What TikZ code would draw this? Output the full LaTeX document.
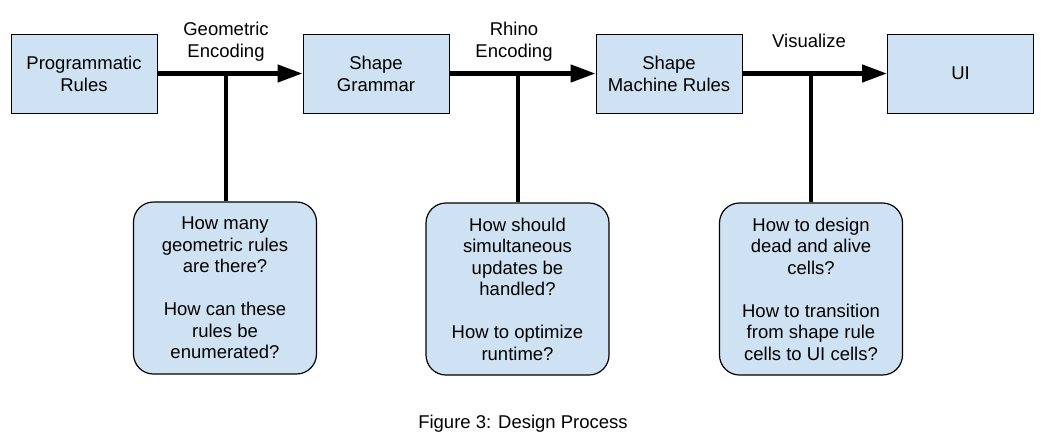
\documentclass[tikz,border=0pt]{standalone}
\usepackage{fontspec}
\setmainfont{Liberation Sans}
\usetikzlibrary{arrows.meta}
\definecolor{boxblue}{RGB}{207,226,243}

\begin{document}
\begin{tikzpicture}[x=1pt, y=-1pt, >={Triangle[length=25pt,width=17pt]},
    stage/.style={draw=black, line width=1pt, fill=boxblue, minimum width=146pt, minimum height=79pt, inner sep=0pt, align=center, font=\fontsize{18.5}{22}\selectfont},
    question/.style={draw=black, line width=1.2pt, fill=boxblue, rounded corners=20pt, minimum width=183pt, minimum height=172pt, inner sep=0pt, align=center, font=\fontsize{18.5}{21.5}\selectfont},
    flowlabel/.style={align=center, inner sep=0pt, font=\fontsize{18.5}{22}\selectfont},
    flow/.style={line width=4.5pt, ->},
    link/.style={line width=4.5pt}]

        % Page frame
        \useasboundingbox (0,0) rectangle (1048,445);

        % Stage boxes
        \node[stage] (prog) at (84,73.5) {Programmatic\\Rules};
        \node[stage] (grammar) at (376,73.5) {Shape\\Grammar};
        \node[stage] (machine) at (669,73.5) {Shape\\Machine Rules};
        \node[stage] (ui) at (960.5,73.5) {UI};

        % Flow between stages
        \draw[flow] (prog) -- (grammar);
        \draw[flow] (grammar) -- (machine);
        \draw[flow] (machine) -- (ui);

        % Labels over the arrows
        \node[flowlabel] (lblgeo) at (226,41.5) {Geometric\\Encoding};
        \node[flowlabel] (lblrhino) at (514,41.5) {Rhino\\Encoding};
        \node[flowlabel] (lblvis) at (809,41) {Visualize};

        % Question boxes
        \node[question] (qgeo) at (225,288) {How many\\geometric rules\\are there?\\[21.5pt]How can these\\rules be\\enumerated?};
        \node[question] (qrhino) at (517.5,289) {How should\\simultaneous\\updates be\\handled?\\[21.5pt]How to optimize\\runtime?};
        \node[question] (qvis) at (811,289) {How to design\\dead and alive\\cells?\\[21.5pt]How to transition\\from shape rule\\cells to UI cells?};

        % Junctions on the arrows
        \coordinate (jgeo) at (226,73.5);
        \coordinate (jrhino) at (518,73.5);
        \coordinate (jvis) at (811,73.5);
        \draw[link] (jgeo) -- (jgeo |- qgeo.north);
        \draw[link] (jrhino) -- (jrhino |- qrhino.north);
        \draw[link] (jvis) -- (jvis |- qvis.north);

        % Caption
        \node[flowlabel] (caption) at (523,424) {Figure 3: Design Process};

\end{tikzpicture}
\end{document}
